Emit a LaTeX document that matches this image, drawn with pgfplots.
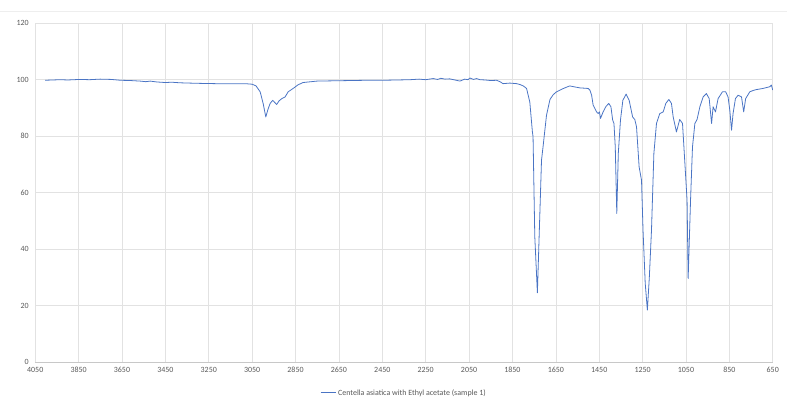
\documentclass[border=0pt]{standalone}
\usepackage{fontspec}
\setmainfont{Carlito}
\usepackage{pgfplots}
\pgfplotsset{compat=1.18}
\definecolor{lineblue}{HTML}{4A74C4}
\definecolor{gridgray}{HTML}{E2E2E2}
\definecolor{axisgray}{HTML}{C8C8C8}
\definecolor{textgray}{HTML}{595959}
\begin{document}
\begin{tikzpicture}
\begin{axis}[
  name=ax,
  scale only axis, width=738bp, height=339bp,
  xmin=650, xmax=4050, x dir=reverse, ymin=0, ymax=120,
  xtick={650,850,...,4050}, ytick={0,20,...,120},
  grid=major, major grid style={draw=gridgray, line width=0.6pt},
  axis x line*=bottom, axis y line*=left,
  x axis line style={-, draw=axisgray, line width=0.8pt},
  y axis line style={-, draw=none},
  major tick length=0pt, tick style={draw=none},
  ticklabel style={font=\fontsize{8}{9}\selectfont, text=textgray},
  /pgf/number format/assume math mode=true,
  /pgf/number format/set thousands separator={},
  xticklabel style={yshift=-2bp},
  yticklabel style={xshift=-3bp},
  legend style={at={(0.5,-0.068)}, anchor=north, draw=none, fill=none,
    font=\fontsize{8}{9}\selectfont, text=textgray},
  legend image code/.code={\draw[lineblue, line width=1pt] (0bp,0bp) -- (15bp,0bp);},
]
\addplot[lineblue, line width=0.8pt, line join=round] coordinates {
(4004,99.8) (3970,99.9) (3935,100.0) (3900,99.9) (3843,100.1) (3800,100.0) (3751,100.2) (3700,100.1) (3658,99.8) (3610,99.7)
(3566,99.5) (3540,99.3) (3520,99.5) (3490,99.2) (3451,99.0) (3420,99.1) (3382,98.9) (3340,98.8) (3290,98.7) (3220,98.6)
(3152,98.6) (3083,98.6) (3050,98.4) (3032,97.8) (3013,95.7) (2999,91.5) (2987,86.8) (2977,89.5) (2967,91.6) (2955,92.7)
(2937,91.2) (2926,92.5) (2913,93.3) (2898,93.9) (2884,95.7) (2861,96.9) (2838,98.2) (2815,99.0) (2752,99.5) (2680,99.6)
(2599,99.7) (2520,99.8) (2447,99.8) (2380,99.9) (2322,100.0) (2280,100.2) (2250,100.0) (2216,100.4) (2195,100.1) (2180,100.5)
(2161,100.2) (2140,100.3) (2115,99.9) (2092,99.5) (2070,100.2) (2055,100.0) (2046,100.6) (2030,100.1) (2015,100.4) (2000,100.0)
(1975,99.9) (1950,99.7) (1923,99.8) (1905,99.2) (1894,98.6) (1862,98.8) (1831,98.6) (1816,98.3) (1800,97.8) (1785,96.9)
(1770,92.1) (1758,81.5) (1755,79.8) (1747,44.4) (1735,24.5) (1727,44.4) (1716,71.5) (1709,76.2) (1693,87.4) (1677,93.0)
(1662,94.7) (1647,95.7) (1618,96.8) (1586,97.8) (1560,97.4) (1539,97.1) (1501,96.9) (1493,96.3) (1485,94.5) (1478,91.0)
(1462,88.6) (1455,88.0) (1449,88.6) (1444,86.3) (1432,88.6) (1419,90.5) (1406,91.6) (1396,90.4) (1388,85.7) (1382,84.5)
(1376,76.2) (1369,52.6) (1362,73.9) (1352,85.7) (1341,92.7) (1326,94.9) (1312,92.7) (1296,86.8) (1286,85.9) (1278,83.3)
(1266,69.1) (1255,64.4) (1248,46.7) (1238,28.0) (1228,18.4) (1219,30.0) (1209,46.7) (1198,73.9) (1186,84.5) (1171,88.0)
(1155,88.6) (1143,91.6) (1129,93.0) (1117,91.6) (1109,86.8) (1094,81.5) (1079,85.9) (1066,84.5) (1055,70.3) (1045,57.3)
(1040,29.6) (1029,57.3) (1020,76.2) (1009,84.5) (999,85.9) (986,90.4) (971,93.9) (956,95.1) (943,93.3) (932,84.5)
(925,90.4) (914,88.6) (902,93.3) (882,95.7) (867,95.7) (856,93.9) (848,89.2) (840,82.1) (833,88.0) (822,93.3)
(810,94.5) (794,93.9) (784,88.6) (775,93.3) (756,95.7) (740,96.2) (725,96.5) (710,96.7) (695,96.9) (680,97.2)
(664,97.5) (656,98.1) (650,96.3)
};
\addlegendentry{Centella asiatica with Ethyl acetate (sample 1)}
\end{axis}
\path (ax.south west) ++(-35bp,-43bp) coordinate (bl);
\path (ax.north east) ++(14bp,23bp) coordinate (tr);
\path (bl) rectangle (tr);
\draw[gridgray!60, line width=0.5pt] (bl |- tr) ++(0,-11bp) -- ++(787bp,0);
\end{tikzpicture}
\end{document}
